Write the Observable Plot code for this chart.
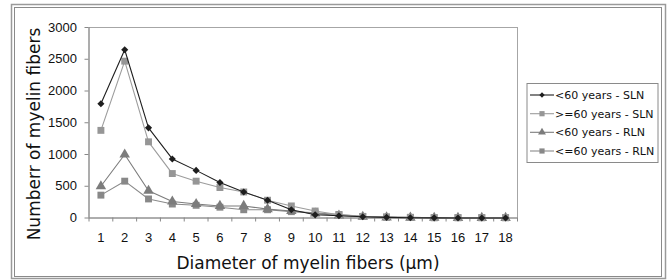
<!DOCTYPE html>
<html>
<head>
<meta charset="utf-8">
<script src="https://cdn.jsdelivr.net/npm/d3@7"></script>
<script src="https://cdn.jsdelivr.net/npm/@observablehq/plot@0.6"></script>
<style>
  html, body { margin: 0; padding: 0; background: #fff; }
  #chart { position: relative; width: 669px; height: 280px; }
</style>
</head>
<body>
<div id="chart"></div>
<script>
// ---- Data ----
const diameters = [1, 2, 3, 4, 5, 6, 7, 8, 9, 10, 11, 12, 13, 14, 15, 16, 17, 18];
const under60SLN = [1800, 2650, 1420, 930, 750, 560, 410, 280, 130, 50, 35, 20, 10, 5, 2, 1, 1, 1];
const over60SLN  = [1380, 2470, 1200, 700, 580, 480, 410, 280, 190, 110, 50, 25, 15, 10, 5, 5, 5, 5];
const under60RLN = [500, 1000, 430, 260, 220, 190, 190, 140, 110, 70, 40, 20, 10, 5, 3, 2, 2, 2];
const upto60RLN  = [360, 580, 300, 220, 200, 170, 130, 130, 100, 80, 55, 25, 15, 10, 5, 5, 5, 5];
const seriesNames = ["<60 years - SLN", ">=60 years - SLN", "<60 years - RLN", "<=60 years - RLN"];
const seriesValues = [under60SLN, over60SLN, under60RLN, upto60RLN];
const yTicks = [0, 500, 1000, 1500, 2000, 2500, 3000];

// ---- Styles ----
const styles = [
  {stroke: "#1e1e1e", fill: "#1e1e1e", symbol: "diamond2", r: 3.2},
  {stroke: "#9c9c9c", fill: "#969696", symbol: "square", r: 3.9},
  {stroke: "#7c7c7c", fill: "#7c7c7c", symbol: "triangle", r: 3.9},
  {stroke: "#8a8a8a", fill: "#888888", symbol: "square", r: 3.9}
];

const rows = seriesNames.map((name, i) =>
  diameters.map((d, j) => ({d, v: seriesValues[i][j], series: name})));

const boundaries = diameters.map(d => d - 0.5).concat([diameters[diameters.length - 1] + 0.5]);

const marks = [
  Plot.frame({stroke: "#a6a6a6", strokeWidth: 1}),
  Plot.axisY({ticks: yTicks, tickSize: 4, tickPadding: 8, stroke: "#888", tickFormat: d => String(d),
    fontSize: 13, fontFamily: "Liberation Sans, Arial, sans-serif", fill: "#111", label: null}),
  Plot.axisX({ticks: boundaries, tickSize: 4, tickFormat: () => "", stroke: "#888", label: null}),
  Plot.axisX({ticks: diameters, tickSize: 0, tickPadding: 15, tickFormat: d => String(d),
    fontSize: 13, fontFamily: "Liberation Sans, Arial, sans-serif", fill: "#111", label: null}),
  Plot.ruleY([0], {stroke: "#888"}),
  Plot.ruleX([boundaries[0]], {stroke: "#888"})
];
// draw bottom series first so the black one is on top
[3, 2, 1, 0].forEach(i => {
  const s = styles[i];
  marks.push(Plot.line(rows[i], {x: "d", y: "v", stroke: s.stroke, strokeWidth: 1.1}));
  marks.push(Plot.dot(rows[i], {x: "d", y: "v", fill: s.fill, stroke: "none", symbol: s.symbol, r: s.r}));
});

const chart = Plot.plot({
  width: 669,
  height: 280,
  marginLeft: 88.5,
  marginRight: 152,
  marginTop: 27,
  marginBottom: 62.5,
  x: {type: "linear", domain: [boundaries[0], boundaries[boundaries.length - 1]], axis: null},
  y: {domain: [0, 3000], axis: null},
  style: {background: "transparent", overflow: "visible"},
  marks
});

const svg = d3.select(chart);
// Outer double border
svg.insert("rect", ":first-child").attr("x", 11.5).attr("y", 4.5).attr("width", 654).attr("height", 274)
  .attr("fill", "none").attr("stroke", "#9a9a9a").attr("stroke-width", 1.5);
svg.insert("rect", ":first-child").attr("x", 14.5).attr("y", 7.5).attr("width", 647).attr("height", 269)
  .attr("fill", "none").attr("stroke", "#8a8a8a").attr("stroke-width", 1);

// Axis titles
svg.append("text").attr("x", 308).attr("y", 268.5).attr("text-anchor", "middle")
  .attr("font-family", "DejaVu Sans, Verdana, sans-serif").attr("font-size", 17).attr("fill", "#111")
  .text("Diameter of myelin fibers (µm)");
svg.append("text").attr("transform", "translate(40,134) rotate(-90)").attr("text-anchor", "middle")
  .attr("font-family", "DejaVu Sans, Verdana, sans-serif").attr("font-size", 17).attr("fill", "#111")
  .text("Numberr of myelin fibers");

// Legend
const lg = svg.append("g").attr("text-anchor", "start");
lg.append("rect").attr("x", 527).attr("y", 83.5).attr("width", 131).attr("height", 79)
  .attr("fill", "#fff").attr("stroke", "#8a8a8a").attr("stroke-width", 1);
const rowY = [95, 113.7, 132.3, 151];
const symbolMap = {diamond2: d3.symbolDiamond2, square: d3.symbolSquare, triangle: d3.symbolTriangle};
seriesNames.forEach((name, i) => {
  const s = styles[i];
  const y = rowY[i];
  lg.append("line").attr("x1", 530).attr("x2", 554).attr("y1", y).attr("y2", y)
    .attr("stroke", s.stroke).attr("stroke-width", 1.1);
  const r = s.r * 0.75;
  lg.append("path").attr("transform", `translate(542,${y})`)
    .attr("d", d3.symbol(symbolMap[s.symbol], Math.PI * r * r)())
    .attr("fill", s.fill);
  lg.append("text").attr("x", 555).attr("y", y).attr("dy", "0.36em").attr("text-anchor", "start")
    .attr("font-family", "DejaVu Sans, Verdana, sans-serif").attr("font-size", 11).attr("fill", "#111")
    .text(name);
});

document.getElementById("chart").appendChild(chart);
</script>
</body>
</html>
